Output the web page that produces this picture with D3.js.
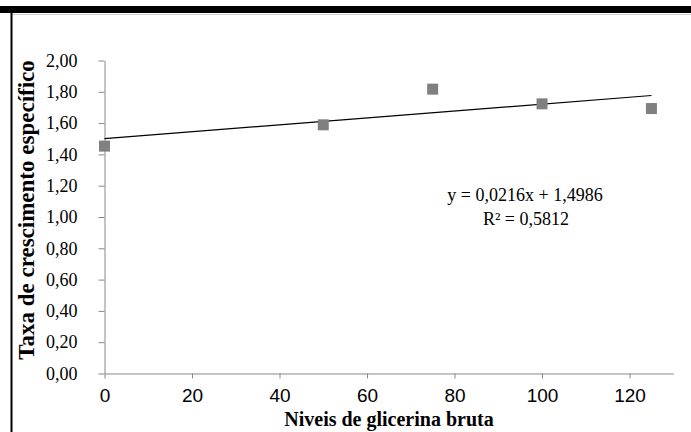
<!DOCTYPE html>
<html><head><meta charset="utf-8">
<script src="https://cdn.jsdelivr.net/npm/d3@7"></script>
<style>html,body{margin:0;padding:0;background:#fff;}svg{display:block;}</style>
</head><body>
<svg id="chart" width="691" height="432"></svg>
<script>
const xValues = [0, 50, 75, 100, 125];
const yValues = [1.453, 1.589, 1.817, 1.723, 1.693];
const xTicks = [0, 20, 40, 60, 80, 100, 120];
const yTicks = [0, 0.2, 0.4, 0.6, 0.8, 1.0, 1.2, 1.4, 1.6, 1.8, 2.0];
const xTitle = "Niveis de glicerina bruta";
const yTitle = "Taxa de crescimento específico";
const eqLine1 = "y = 0,0216x + 1,4986";
const eqLine2 = "R² = 0,5812";

const svg = d3.select("#chart");
const fmt = d => d3.format(".2f")(d).replace(".", ",");

// frame decorations
svg.append("rect").attr("x", 0).attr("y", 6).attr("width", 691).attr("height", 7).attr("fill", "#000");
svg.append("line").attr("x1", 12).attr("x2", 691).attr("y1", 14.5).attr("y2", 14.5).attr("stroke", "#d0d0d0").attr("stroke-width", 1);
svg.append("rect").attr("x", 10.5).attr("y", 13).attr("width", 2).attr("height", 419).attr("fill", "#000");

const x = d3.scaleLinear().domain([0, 130]).range([104.5, 673.3]);
const y = d3.scaleLinear().domain([0, 2]).range([373.5, 60.5]);

const axisColor = "#888888";

const gy = svg.append("g").attr("transform", "translate(104.5,0)")
  .call(d3.axisLeft(y).tickValues(yTicks).tickSize(6).tickSizeOuter(0).tickPadding(21).tickFormat(fmt));
gy.select(".domain").attr("stroke", axisColor);
gy.selectAll(".tick line").attr("stroke", axisColor);
gy.selectAll(".tick text").attr("fill", "#000").attr("font-family", "'Liberation Serif', serif").attr("font-size", 18);

const gx = svg.append("g").attr("transform", "translate(0,373.5)")
  .call(d3.axisBottom(x).tickValues(xTicks).tickSize(5).tickSizeOuter(0).tickPadding(10).tickFormat(d3.format("d")));
gx.select(".domain").attr("stroke", axisColor);
gx.selectAll(".tick line").attr("stroke", axisColor);
gx.selectAll(".tick text").attr("fill", "#000").attr("font-family", "'Liberation Sans', sans-serif").attr("font-size", 19);

// linear trendline (least squares of the data)
const n = xValues.length;
const mx = d3.mean(xValues), my = d3.mean(yValues);
let sxy = 0, sxx = 0;
for (let i = 0; i < n; i++) { sxy += (xValues[i]-mx)*(yValues[i]-my); sxx += (xValues[i]-mx)**2; }
const slope = sxy / sxx, intercept = my - slope * mx;
const xMin = d3.min(xValues), xMax = d3.max(xValues);
svg.append("line")
  .attr("x1", x(xMin)).attr("y1", y(intercept + slope*xMin))
  .attr("x2", x(xMax)).attr("y2", y(intercept + slope*xMax))
  .attr("stroke", "#000").attr("stroke-width", 1.2);

// markers
const s = 11;
svg.append("g").selectAll("rect").data(xValues.map((d,i)=>[d, yValues[i]])).join("rect")
  .attr("x", d => x(d[0]) - s/2).attr("y", d => y(d[1]) - s/2)
  .attr("width", s).attr("height", s).attr("fill", "#808080");

// equation
svg.append("text").attr("x", 525).attr("y", 201).attr("text-anchor", "middle").text(eqLine1)
  .attr("font-family", "'Liberation Serif', serif").attr("font-size", 18);
svg.append("text").attr("x", 526).attr("y", 225).attr("text-anchor", "middle").text(eqLine2)
  .attr("font-family", "'Liberation Serif', serif").attr("font-size", 18);

// titles
svg.append("text").attr("x", 389).attr("y", 426).attr("text-anchor", "middle").text(xTitle)
  .attr("font-family", "'Liberation Serif', serif").attr("font-weight", "bold").attr("font-size", 20);
svg.append("text").attr("transform", "translate(34,210) rotate(-90)").attr("text-anchor", "middle").text(yTitle)
  .attr("font-family", "'Liberation Serif', serif").attr("font-weight", "bold").attr("font-size", 23);
</script>
</body></html>
